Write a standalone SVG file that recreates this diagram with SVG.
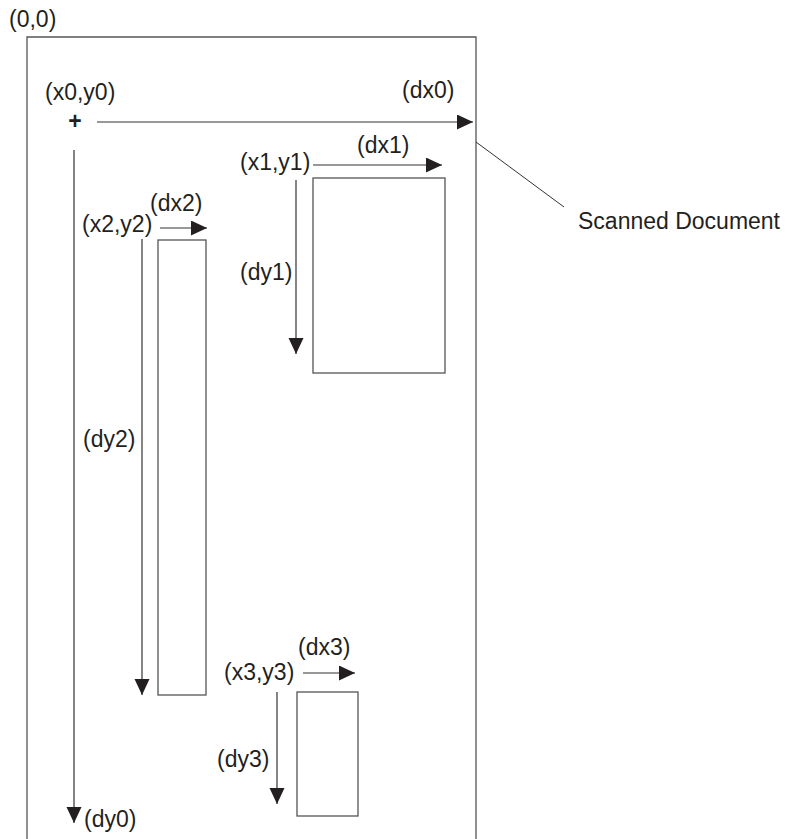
<svg xmlns="http://www.w3.org/2000/svg" width="792" height="839" viewBox="0 0 792 839">
<defs>
<marker id="ah" markerUnits="userSpaceOnUse" markerWidth="16" markerHeight="16" refX="16" refY="7.5" orient="auto">
<path d="M0,0 L16,7.5 L0,15 Z" fill="#231f20"/>
</marker>
<style>
text{font-family:"Liberation Sans",Arial,sans-serif;font-size:23px;fill:#231f20}
.box{fill:none;stroke:#555;stroke-width:1.3}
.arr{fill:none;stroke:#333;stroke-width:1.2;marker-end:url(#ah)}
.ln{fill:none;stroke:#333;stroke-width:1}
</style>
</defs>
<rect width="792" height="839" fill="#fff"/>
<g id="document">
<path class="box" d="M27,839 V37 H476 V839"/>
<text x="578" y="229">Scanned Document</text>
</g>
<g id="origin">
<text x="9" y="27">(0,0)</text>
</g>
<g id="point0">
<text x="45" y="100">(x0,y0)</text>
<text x="75" y="129" text-anchor="middle" font-weight="bold">+</text>
<text x="402" y="98">(dx0)</text>
<text x="84" y="827">(dy0)</text>
</g>
<g id="region1">
<rect class="box" x="313" y="178" width="132" height="195"/>
<text x="240" y="170">(x1,y1)</text>
<text x="357" y="153">(dx1)</text>
<text x="240" y="280">(dy1)</text>
</g>
<g id="region2">
<rect class="box" x="158" y="240" width="48" height="455"/>
<text x="82" y="232">(x2,y2)</text>
<text x="150" y="211">(dx2)</text>
<text x="83" y="447">(dy2)</text>
</g>
<g id="region3">
<rect class="box" x="297" y="692" width="61" height="124"/>
<text x="224" y="680">(x3,y3)</text>
<text x="298" y="655">(dx3)</text>
<text x="217" y="767">(dy3)</text>
</g>
<g id="connectors">
<line class="arr" x1="97" y1="122" x2="473" y2="122"/>
<line class="arr" x1="74" y1="150" x2="74" y2="823"/>
<line class="arr" x1="313" y1="165" x2="442" y2="165"/>
<line class="arr" x1="296" y1="180" x2="296" y2="354"/>
<line class="arr" x1="160" y1="228" x2="207" y2="228"/>
<line class="arr" x1="142" y1="239" x2="142" y2="695"/>
<line class="arr" x1="303" y1="673" x2="355" y2="673"/>
<line class="arr" x1="277" y1="692" x2="277" y2="804"/>
<line class="ln" x1="476" y1="142" x2="564" y2="207"/>
</g>
</svg>
